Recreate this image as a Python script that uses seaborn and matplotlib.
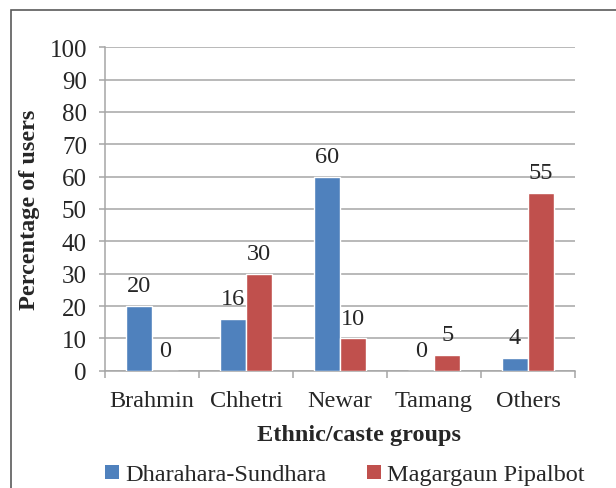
import matplotlib
matplotlib.use("Agg")
import matplotlib.pyplot as plt
from matplotlib.patches import Rectangle, Patch
import numpy as np
import pandas as pd
import seaborn as sns

groups = ["Brahmin", "Chhetri", "Newar", "Tamang", "Others"]
sites = ["Dharahara-Sundhara", "Magargaun Pipalbot"]
dharahara = [20, 16, 60, 0, 4]
magargaun = [0, 30, 10, 5, 55]
yticks = list(range(0, 101, 10))

colors = ["#4F81BD", "#C0504D"]
grid_color = "#A6A6A6"
fs = 17.5

df = pd.DataFrame({
    "group": groups * 2,
    "site": [sites[0]] * len(groups) + [sites[1]] * len(groups),
    "value": dharahara + magargaun,
})

sns.set_theme(style="white")
plt.rcParams["font.family"] = ["Liberation Serif", "DejaVu Serif"]

fig = plt.figure(figsize=(6.16, 4.89), dpi=100)
ax = fig.add_axes([105 / 616, 1 - 371.7 / 489, 470 / 616, (371.7 - 48.3) / 489])

sns.barplot(data=df, x="group", y="value", hue="site", order=groups,
            hue_order=sites, palette=colors, width=0.56, gap=0,
            saturation=1, ax=ax, legend=False, zorder=3)

ax.set_ylim(0, 100)
ax.set_xlim(-0.5, len(groups) - 0.5)
ax.set_yticks(yticks)
ax.set_yticklabels([str(t) for t in yticks], fontsize=fs + 0.5)
ax.yaxis.grid(True, color=grid_color, linewidth=1.1, zorder=0)
ax.set_axisbelow(True)

# category boundaries as major ticks, names on minor ticks
ax.set_xticks(np.arange(-0.5, len(groups), 1.0))
ax.set_xticklabels([])
ax.set_xticks(np.arange(len(groups)), minor=True)
ax.set_xticklabels(groups, minor=True, fontsize=fs)
ax.tick_params(axis="x", which="major", length=5, width=1.1, color=grid_color, direction="out", bottom=True)
ax.tick_params(axis="x", which="minor", length=0, pad=14)
ax.tick_params(axis="y", length=4, width=1.1, color=grid_color, direction="out", left=True, pad=9)
ax.set_xlabel("")
ax.set_ylabel("")

for side in ["top", "right"]:
    ax.spines[side].set_visible(False)
for side in ["left", "bottom"]:
    ax.spines[side].set_color(grid_color)
    ax.spines[side].set_linewidth(1.1)

for cont in ax.containers:
    ax.bar_label(cont, fmt="%g", padding=7, fontsize=fs)

fig.text(30 / 616, 1 - 210 / 489, "Percentage of users", rotation=90,
         ha="center", va="center", fontsize=fs, fontweight="bold")
fig.text(359 / 616, 1 - 436 / 489, "Ethnic/caste groups",
         ha="center", va="center", fontsize=fs, fontweight="bold")

handles = [Patch(facecolor=c, edgecolor="none") for c in colors]
fig.legend(handles, sites, loc="center", bbox_to_anchor=(345 / 616, 1 - 476 / 489),
           ncol=2, frameon=False, fontsize=fs, handlelength=0.55, handleheight=0.55,
           handletextpad=0.25, columnspacing=1.7, borderaxespad=0)

# chart-area border
fig.patches.append(Rectangle((11 / 616, -0.1), 1.2, 1 - 11 / 489 + 0.1,
                             transform=fig.transFigure, fill=False,
                             edgecolor="#5A5A5A", linewidth=1.2))

fig.savefig("out.png", dpi=100)
